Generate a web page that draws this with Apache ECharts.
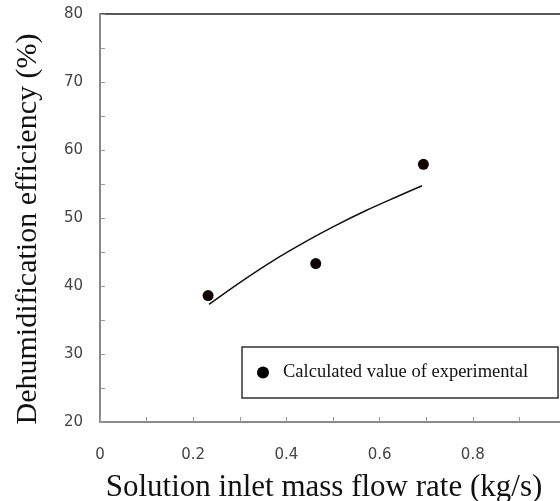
<!DOCTYPE html>
<html>
<head>
<meta charset="utf-8">
<script src="https://cdn.jsdelivr.net/npm/echarts@6/dist/echarts.min.js"></script>
<style>
  html, body { margin: 0; padding: 0; background: #fff; }
  #chart { width: 560px; height: 501px; }
</style>
</head>
<body>
<div id="chart"></div>
<script>
// Measured points: solution inlet mass flow rate (kg/s) vs dehumidification efficiency (%)
const flowRate = [0.232, 0.463, 0.694];
const efficiency = [38.6, 43.3, 57.9];

// Fitted trend curve through the measured range
const fitFlow = [0.234, 0.30, 0.371, 0.446, 0.50, 0.571, 0.643, 0.691];
const fitEff = [37.3, 40.5, 43.7, 46.7, 48.7, 51.1, 53.3, 54.75];

const seriesName = 'Calculated value of experimental';
const xTitle = 'Solution inlet mass flow rate (kg/s)';
const yTitle = 'Dehumidification efficiency (%)';

const serif = '"Liberation Serif", "Times New Roman", serif';
const sans = '"DejaVu Sans", sans-serif';

const chart = echarts.init(document.getElementById('chart'), null, { renderer: 'canvas' });

chart.setOption({
  animation: false,
  backgroundColor: '#fff',
  grid: {
    left: 100, top: 14, bottom: 79, right: -6,
    outerBoundsMode: 'none',
    containLabel: false,
    show: true, borderColor: '#222', borderWidth: 1.5, backgroundColor: 'transparent'
  },
  legend: {
    data: [{ name: seriesName, icon: 'circle' }],
    left: 242, top: 347,
    orient: 'horizontal',
    itemWidth: 12, itemHeight: 12,
    padding: [16, 30, 16, 15],
    backgroundColor: '#fff',
    borderColor: '#333', borderWidth: 1.5, borderRadius: 0,
    itemStyle: { color: '#000', opacity: 1 },
    textStyle: { fontFamily: serif, fontSize: 18.5, color: '#111', padding: [0, 0, 0, 9] }
  },
  xAxis: {
    type: 'value', min: 0, max: 1, interval: 0.2,
    name: xTitle, nameLocation: 'middle', nameGap: 50,
    nameTextStyle: { fontFamily: serif, fontSize: 31, color: '#111', padding: [0, 18, 0, 0] },
    axisLine: { show: true, lineStyle: { color: '#999', width: 1.5 } },
    axisTick: { show: true, inside: true, length: 5, lineStyle: { color: '#999' } },
    minorTick: { show: true, splitNumber: 2, length: 5, lineStyle: { color: '#999' } },
    splitLine: { show: false },
    axisLabel: {
      margin: 26, fontFamily: sans, fontSize: 15, color: '#444',
      formatter: v => String(Math.round(v * 10) / 10)
    }
  },
  yAxis: {
    type: 'value', min: 20, max: 80, interval: 10,
    name: yTitle, nameLocation: 'middle', nameGap: 57,
    nameTextStyle: { fontFamily: serif, fontSize: 30, color: '#111', padding: [0, 22, 0, 0] },
    axisLine: { show: true, lineStyle: { color: '#999', width: 1.5 } },
    axisTick: { show: true, inside: true, length: 5, lineStyle: { color: '#999' } },
    minorTick: { show: true, splitNumber: 2, length: 5, lineStyle: { color: '#999' } },
    splitLine: { show: false },
    axisLabel: { margin: 17, fontFamily: sans, fontSize: 15, color: '#444' }
  },
  series: [
    {
      type: 'line',
      data: fitFlow.map((x, i) => [x, fitEff[i]]),
      smooth: 0.3,
      showSymbol: false,
      lineStyle: { color: '#111', width: 1.5 },
      z: 2
    },
    {
      name: seriesName,
      type: 'scatter',
      data: flowRate.map((x, i) => [x, efficiency[i]]),
      symbol: 'circle',
      symbolSize: 11,
      itemStyle: { color: '#120303', opacity: 1 },
      z: 3
    }
  ]
});
</script>
</body>
</html>
